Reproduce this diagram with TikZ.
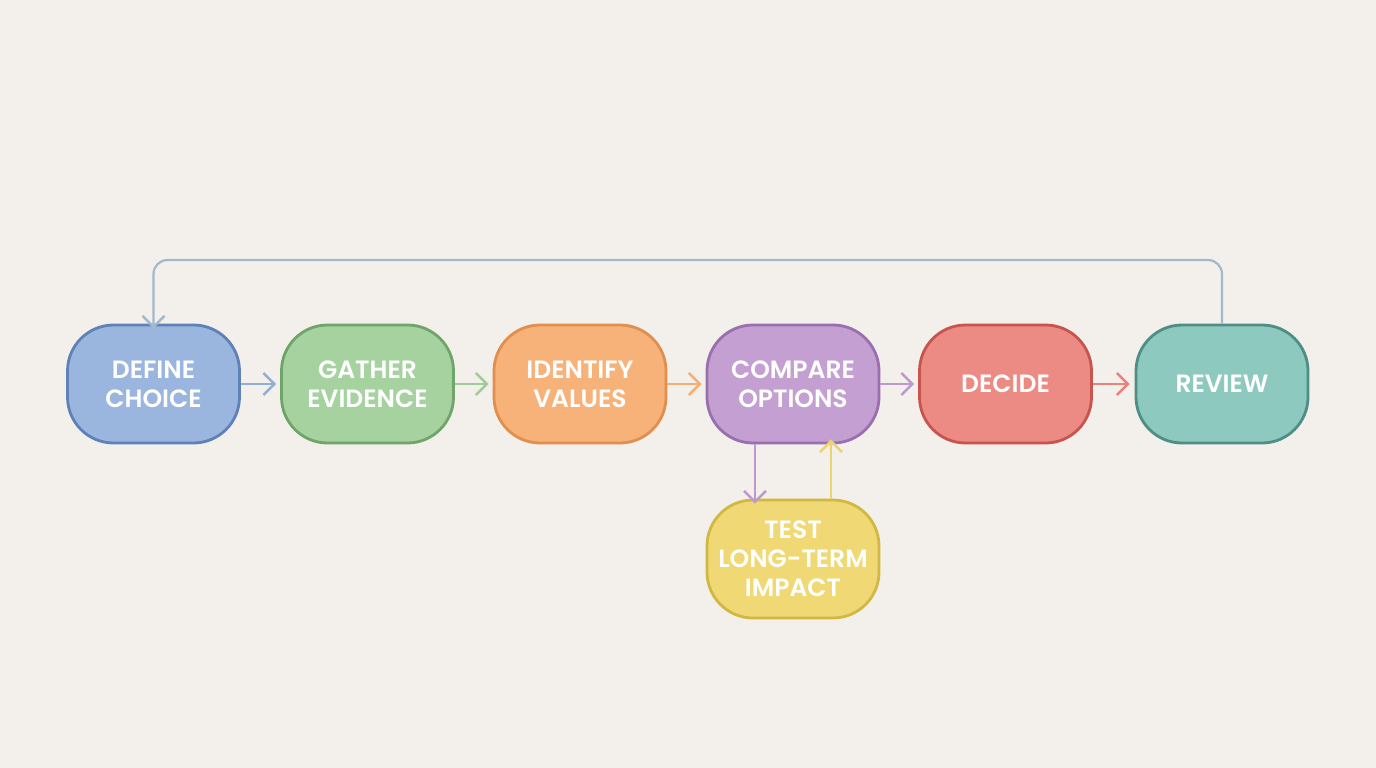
\documentclass[tikz,border=0pt]{standalone}
\usepackage{fontspec}
\setmainfont{Poppins}[BoldFont={Poppins SemiBold}]
\usetikzlibrary{arrows.meta}
\definecolor{bg}{HTML}{F3F0EB}
\definecolor{dfill}{HTML}{9AB6DE}\definecolor{dline}{HTML}{5E82B8}
\definecolor{gfill}{HTML}{A6D2A0}\definecolor{gline}{HTML}{6FA56A}
\definecolor{ifill}{HTML}{F7B27A}\definecolor{iline}{HTML}{E08F4E}
\definecolor{cfill}{HTML}{C4A0D2}\definecolor{cline}{HTML}{9A6FB0}
\definecolor{efill}{HTML}{EC8A84}\definecolor{eline}{HTML}{C85450}
\definecolor{rfill}{HTML}{8DC9BF}\definecolor{rline}{HTML}{4E8E84}
\definecolor{tfill}{HTML}{F0D874}\definecolor{tline}{HTML}{D2B843}
\definecolor{loopc}{HTML}{A2B8CC}
\tikzset{
  stage/.style={draw=#1line, fill=#1fill, line width=2.8pt, rounded corners=46pt,
    minimum width=172pt, minimum height=118pt, text=white, align=center,
    font=\fontsize{25}{29}\selectfont\bfseries, inner sep=0pt},
  flow/.style={draw=#1, line width=2.5pt, -{Straight Barb[length=11pt,width=22pt,line width=2.5pt]}},
}
\begin{document}
\begin{tikzpicture}[x=1pt,y=-1pt]
\fill[bg] (0,0) rectangle (1376,768);
\useasboundingbox (0,0) rectangle (1376,768);
\node[stage=d] (define) at (153.5,384) {DEFINE\\CHOICE};
\node[stage=g] (gather) at (367.5,384) {GATHER\\EVIDENCE};
\node[stage=i] (identify) at (580,384) {IDENTIFY\\VALUES};
\node[stage=c] (compare) at (793,384) {COMPARE\\OPTIONS};
\node[stage=e] (decide) at (1005.5,384) {DECIDE};
\node[stage=r] (review) at (1222,384) {REVIEW};
\node[stage=t] (test) at (793,559) {TEST\\LONG-TERM\\IMPACT};
\draw[flow=dfill!85!dline] (define.east) -- ([xshift=-4pt]gather.west);
\draw[flow=gfill!85!gline] (gather.east) -- ([xshift=-4pt]identify.west);
\draw[flow=ifill!85!iline] (identify.east) -- ([xshift=-4pt]compare.west);
\draw[flow=cfill!85!cline] (compare.east) -- ([xshift=-4pt]decide.west);
\draw[flow=efill!85!eline] (decide.east) -- ([xshift=-5pt]review.west);
\draw[flow=cfill!85!cline] ([xshift=-38pt]compare.south) -- ([xshift=-38pt,yshift=-5pt]test.north);
\draw[flow=tfill!85!tline] ([xshift=38pt]test.north) -- ([xshift=38pt,yshift=5pt]compare.south);
\coordinate (tr) at (1222,260);
\coordinate (tl) at (153.5,260);
\draw[flow=loopc, line width=2.2pt, rounded corners=14pt] (review.north) -- (tr) -- (tl) -- ([yshift=-5pt]define.north);
\end{tikzpicture}
\end{document}
